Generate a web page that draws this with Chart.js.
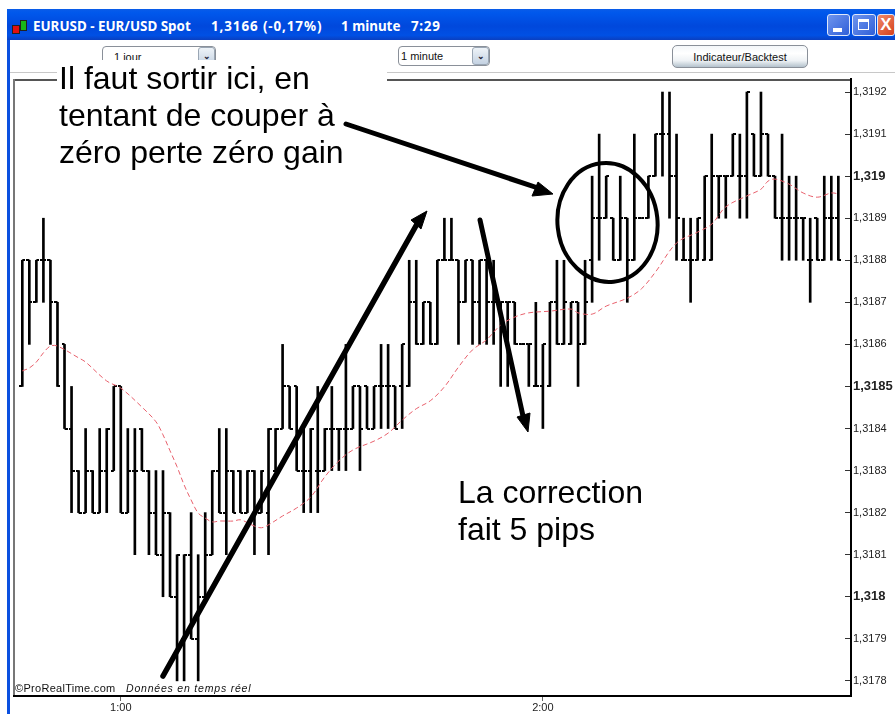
<!DOCTYPE html>
<html><head><meta charset="utf-8"><title>EURUSD</title>
<script src="https://cdn.jsdelivr.net/npm/chart.js@4"></script>
<style>
html,body{margin:0;padding:0;background:#fff;width:895px;height:714px;overflow:hidden;font-family:"Liberation Sans",Arial,sans-serif}
.a{position:absolute}
#titlebar{left:7px;top:9px;width:888px;height:31px;background:linear-gradient(#0a5ce8 0,#0058ec 12%,#0048dc 55%,#0050e4 85%,#0a3fc0 100%)}
.tt{position:absolute;top:17px;color:#fff;font:700 13.4px "Noto Sans",sans-serif;white-space:nowrap;line-height:18px}
.wb{position:absolute;top:14px;height:22px;border-radius:3px;border:1px solid #dfe8fb;box-sizing:border-box}
.note{position:absolute;font:32px/37px "Liberation Sans",Arial,sans-serif;color:#000;white-space:nowrap}
.small{position:absolute;font:11px "Liberation Sans",Arial,sans-serif;color:#111;white-space:nowrap}
.drop{position:absolute;border:1px solid #8a9099;border-radius:4px;box-sizing:border-box;background:#fff;font:11px "Liberation Sans",Arial,sans-serif;color:#111}
.arrowbtn{position:absolute;right:0;top:0;width:17px;height:100%;box-sizing:border-box;border:1px solid #9aa6b4;border-radius:3px;background:linear-gradient(#eef3f8,#c4d2e2);text-align:center;font:700 9px/17px "Liberation Sans";color:#223}
canvas{position:absolute;left:0;top:0}
svg{position:absolute;left:0;top:0}
</style></head><body>
<div class="a" id="titlebar"></div>
<div class="a" style="left:7px;top:40px;width:3px;height:674px;background:#0a50e0"></div>
<div class="a" style="left:12px;top:25px;width:6px;height:7px;background:#e01010;border:1px solid #222;box-sizing:content-box"></div>
<div class="a" style="left:20px;top:20px;width:5px;height:9px;background:#19b819;border:1px solid #222"></div>
<div class="tt" style="left:33px">EURUSD - EUR/USD Spot</div>
<div class="tt" style="left:211px;letter-spacing:.9px">1,3166 (-0,17%)</div>
<div class="tt" style="left:341px">1 minute</div>
<div class="tt" style="left:411px;letter-spacing:.7px">7:29</div>
<div class="wb" style="left:827px;width:23px;background:linear-gradient(135deg,#6f95ee,#2f5fd8)"><div class="a" style="left:5px;top:13px;width:9px;height:4px;background:#fff"></div></div>
<div class="wb" style="left:852px;width:24px;background:linear-gradient(135deg,#6f95ee,#2f5fd8)"><div class="a" style="left:5px;top:4px;width:11px;height:11px;border:1px solid #fff;border-top-width:3px;box-sizing:border-box"></div></div>
<div class="wb" style="left:877px;width:18px;background:linear-gradient(135deg,#ef8a6a,#d5401c);color:#fff;font:700 17px/20px 'Liberation Sans';text-align:center;overflow:hidden">X</div>

<div class="a" style="left:102px;top:46px;width:114px;height:14px;overflow:hidden">
  <div class="drop" style="left:0;top:0;width:114px;height:21px;line-height:20px;padding-left:11px">1 jour<div class="arrowbtn">&#8964;</div></div>
</div>
<div class="drop" style="left:398px;top:46px;width:92px;height:20px;line-height:19px;padding-left:2px">1 minute<div class="arrowbtn">&#8964;</div></div>
<div class="drop" style="left:672px;top:45px;width:136px;height:23px;line-height:22px;text-align:center;border-radius:5px;background:linear-gradient(#f4f7fa 0,#fff 35%,#eef2f5 70%,#b4c2cc 100%)">Indicateur/Backtest</div>

<div class="a" style="left:10px;top:72px;width:47px;height:1px;background:#c8c8c8"></div>
<div class="a" style="left:387px;top:72px;width:508px;height:1px;background:#c8c8c8"></div>
<div class="a" style="left:14px;top:79px;width:43px;height:2px;background:#555"></div>
<div class="a" style="left:387px;top:79px;width:464px;height:2px;background:#555"></div>
<div class="a" style="left:13px;top:79px;width:2px;height:618px;background:#777"></div>

<canvas id="c" width="895" height="714"></canvas>

<div class="small" style="left:15px;top:682px;font-size:11px;letter-spacing:.3px">©ProRealTime.com</div>
<div class="small" style="left:126px;top:682px;font-style:italic;font-size:10.5px;letter-spacing:.8px">Données en temps réel</div>

<div class="note" style="left:59px;top:60px">Il faut sortir ici, en<br>tentant de couper à<br>zéro perte zéro gain</div>
<div class="note" style="left:458px;top:474px">La correction<br>fait 5 pips</div>

<svg width="895" height="714" viewBox="0 0 895 714">
  <g stroke="#000" fill="#000">
    <line x1="163" y1="676" x2="417" y2="224" stroke-width="5.5" stroke-linecap="round"/>
    <polygon points="427,211 411,220 421,229" stroke-width="1"/>
    <line x1="346" y1="124" x2="538" y2="188" stroke-width="5" stroke-linecap="round"/>
    <polygon points="553,194 538,182 532,196" stroke-width="1"/>
    <line x1="480" y1="220" x2="523" y2="416" stroke-width="5" stroke-linecap="round"/>
    <polygon points="528,432 517,417 530,413" stroke-width="1"/>
    <ellipse cx="607.5" cy="222.5" rx="50" ry="59.5" fill="none" stroke-width="4" transform="rotate(-6 607.5 222.5)"/>
  </g>
</svg>

<script>
// Prices are written as pips above 1.3100 (85 = 1,3185)
const opens  = [85,88,87,88,88,87,86,84,83,82,83,82,83,83,85,82,83,84,83,82,81,82,80,79,81,79,80,81,83,82,83,83,82,83,82,82,83,84,85,85,83,83,83,83,84,84,84,84,85,85,84,85,85,85,85,85,87,86,87,86,88,88,88,87,88,87,88,87,87,87,87,86,86,85,85,85,87,86,86,87,86,88,89,89,89,88,89,88,89,89,90,91,91,90,88,88,88,88,88,90,90,90,90,90,91,90,91,90,89,89,89,89,88,89,88,89,89];
const highs  = [88,88,88,89,88,87,86,85,83,84,83,84,84,85,85,84,84,84,83,83,83,82,81,81,82,81,82,83,84,84,83,83,83,83,83,84,84,86,85,85,84,84,85,84,85,84,86,85,85,85,85,86,86,85,86,88,88,87,87,88,89,89,88,88,88,88,88,88,87,87,87,86,86,87,86,87,88,88,87,87,88,90,91,90,89,90,89,91,89,90,91,92,92,91,89,89,89,90,91,90,90,91,91,92,91,92,91,90,91,90,90,89,89,89,90,90,90];
const lows   = [85,86,87,87,86,85,84,82,82,82,82,82,82,83,82,82,81,83,81,81,80,80,78,78,79,78,80,81,82,81,82,82,82,81,82,81,83,84,84,83,82,82,82,83,83,83,83,84,83,84,84,84,84,84,84,85,86,86,86,86,88,88,86,87,86,86,86,86,85,85,86,86,85,85,84,85,86,86,86,85,86,87,88,89,88,88,87,88,89,89,90,90,89,88,88,87,88,88,88,89,89,90,89,89,90,90,90,89,88,88,88,88,87,88,88,88,88];
const closes = [88,87,88,88,87,85,84,83,82,83,82,83,84,85,82,83,83,83,82,81,82,80,81,81,79,80,81,83,82,83,82,82,83,82,83,84,84,85,84,83,83,84,83,84,84,84,84,85,84,84,85,85,85,84,86,87,86,87,86,88,88,88,87,88,87,88,87,87,87,87,86,86,86,85,86,87,86,87,87,86,87,89,89,90,88,89,88,89,89,90,91,91,90,89,88,88,89,90,90,90,90,91,90,92,90,91,90,89,89,89,89,89,88,88,89,89,88];
// Moving average read at selected bars
const maIndex  = [0,1,2,3,4,5,8,9,12,14,17,19,20,21,22,23,24,25,26,27,28,29,30,31,32,33,34,35,37,39,41,43,45,47,50,52,54,56,58,60,62,64,66,68,70,72,75,78,79,81,83,86,88,90,93,96,98,100,103,105,106,107,109,111,113,115,116];
const maValues = [85.37,85.44,85.58,85.80,85.96,85.96,85.68,85.58,85.13,84.96,84.51,84.16,83.85,83.47,83.09,82.66,82.30,81.99,81.87,81.78,81.80,81.80,81.80,81.83,81.76,81.68,81.64,81.71,81.92,82.11,82.37,82.85,83.23,83.49,83.70,83.89,84.20,84.47,84.66,84.99,85.46,85.87,86.11,86.46,86.65,86.75,86.79,86.84,86.75,86.72,86.91,87.10,87.32,87.72,88.41,88.67,88.86,89.27,89.53,89.69,89.88,89.93,89.81,89.60,89.50,89.60,89.58];
const yTickPips   = [92,91,90,89,88,87,86,85,84,83,82,81,80,79,78];
const yTickLabels = ["1,3192","1,3191","1,319","1,3189","1,3188","1,3187","1,3186","1,3185","1,3184","1,3183","1,3182","1,3181","1,318","1,3179","1,3178"];
const boldTicks   = ["1,319","1,3185","1,318"];
const xTickIndex  = [14,74];
const xTickLabels = ["1:00","2:00"];

const price = p => 1.31 + p / 10000;
const yTickValues = yTickPips.map(price);

function tickImage(side){
  const cv = document.createElement('canvas');
  cv.width = 6; cv.height = 2;
  const g = cv.getContext('2d');
  g.fillStyle = '#000';
  g.fillRect(side === 'left' ? 0 : 3, 0, 3, 2);
  return cv;
}
const leftTick = tickImage('left'), rightTick = tickImage('right');
const idx = highs.map((_, i) => i);

new Chart(document.getElementById('c'), {
  data: { datasets: [
    { type:'bar', label:'Range', data: idx.map(i => ({x:i, y:[price(lows[i]), price(highs[i])]})),
      backgroundColor:'#000', borderWidth:0, barThickness:2, order:3 },
    { type:'line', label:'Open', data: idx.map(i => ({x:i, y:price(opens[i])})), showLine:false,
      pointStyle:leftTick, pointRadius:3, order:2 },
    { type:'line', label:'Close', data: idx.map(i => ({x:i, y:price(closes[i])})), showLine:false,
      pointStyle:rightTick, pointRadius:3, order:2 },
    { type:'line', label:'Moyenne mobile', data: maIndex.map((m, k) => ({x:m, y:price(maValues[k])})),
      borderColor:'#e8606c', borderWidth:1, borderDash:[5,3], pointRadius:0, tension:0.35, order:1 }
  ]},
  options: {
    responsive:false, animation:false, events:[],
    layout:{ padding:{ left:14, top:79, right:0, bottom:0 } },
    plugins:{ legend:{display:false}, tooltip:{enabled:false} },
    scales:{
      x:{ type:'linear', min:-1.18, max:117.8, offset:false,
        grid:{ offset:false, drawOnChartArea:false, drawTicks:true, tickLength:5, color:'#666' },
        border:{ color:'#000', width:2 },
        afterBuildTicks: s => { s.ticks = xTickIndex.map(value => ({value})); },
        afterFit: s => { s.height = 18; },
        ticks:{ autoSkip:false, maxRotation:0, padding:0, color:'#222', font:{family:'"Liberation Sans"',size:11},
          callback: v => xTickLabels[xTickIndex.indexOf(v)] }
      },
      y:{ type:'linear', position:'right', min:price(77.64), max:price(92.31),
        grid:{ drawOnChartArea:false, drawTicks:true, tickLength:-6, color:'#333' },
        border:{ color:'#000', width:2 },
        afterBuildTicks: s => { s.ticks = yTickValues.map(value => ({value})); },
        afterFit: s => { s.width = 44; },
        ticks:{ autoSkip:false, padding:8, color:'#222',
          font: c => { const t = yTickLabels[yTickValues.indexOf(c.tick && c.tick.value)];
                       return boldTicks.includes(t) ? {family:'"Liberation Sans"',size:13,weight:'bold'} : {family:'"Liberation Sans"',size:11}; },
          callback: v => yTickLabels[yTickValues.indexOf(v)] }
      }
    }
  }
});
</script>
</body></html>
